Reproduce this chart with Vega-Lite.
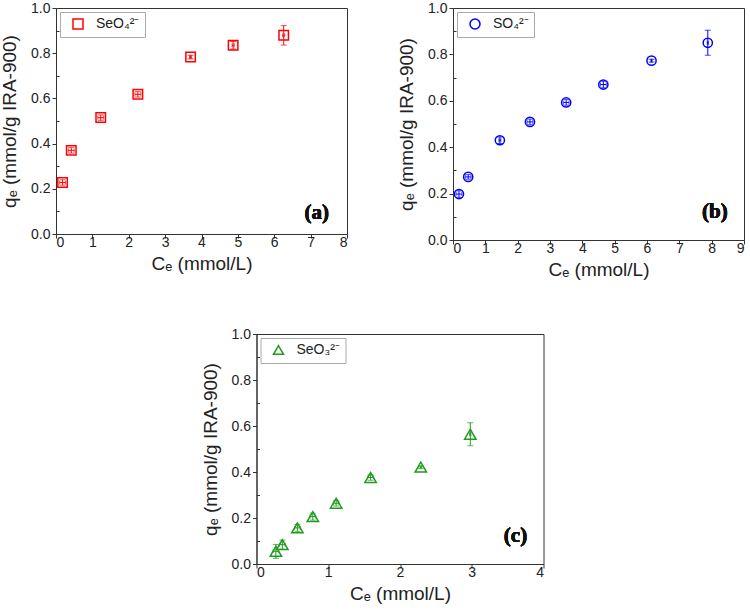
{
  "$schema": "https://vega.github.io/schema/vega-lite/v6.json",
  "padding": {"left": 0, "top": 0, "right": 0, "bottom": 0},
  "background": "white",
  "config": {
    "view": {"stroke": "#333", "strokeWidth": 1},
    "axis": {
      "grid": false,
      "domainColor": "#333",
      "tickColor": "#333",
      "labelFont": "Liberation Sans",
      "labelFontSize": 14,
      "labelColor": "#222",
      "labelPadding": 2,
      "titleFont": "Liberation Sans",
      "titleFontSize": 19,
      "titleFontWeight": "normal",
      "titleColor": "#222"
    },
    "axisX": {"labelPadding": -3, "titlePadding": 5},
    "axisY": {"titlePadding": 11},
    "legend": {
      "orient": "top-left",
      "offset": 4,
      "padding": 5,
      "symbolOffset": 6,
      "labelOffset": 11,
      "strokeColor": "#aaa",
      "fillColor": "white",
      "labelFont": "Liberation Sans",
      "labelFontSize": 14,
      "labelColor": "#222",
      "symbolStrokeWidth": 1.5
    }
  },
  "datasets": {
    "seo4": [
      {"ion": "SeO₄²⁻", "ce": 0.18, "qe": 0.228, "ec": 0.08, "eq": 0.012},
      {"ion": "SeO₄²⁻", "ce": 0.42, "qe": 0.370, "ec": 0.08, "eq": 0.012},
      {"ion": "SeO₄²⁻", "ce": 1.23, "qe": 0.515, "ec": 0.08, "eq": 0.012},
      {"ion": "SeO₄²⁻", "ce": 2.25, "qe": 0.618, "ec": 0.08, "eq": 0.012},
      {"ion": "SeO₄²⁻", "ce": 3.70, "qe": 0.783, "ec": 0.03, "eq": 0.008},
      {"ion": "SeO₄²⁻", "ce": 4.87, "qe": 0.835, "ec": 0.03, "eq": 0.017},
      {"ion": "SeO₄²⁻", "ce": 6.26, "qe": 0.879, "ec": 0.03, "eq": 0.043}
    ],
    "so4": [
      {"ion": "SO₄²⁻", "ce": 0.185, "qe": 0.198, "ec": 0.09, "eq": 0.014},
      {"ion": "SO₄²⁻", "ce": 0.47, "qe": 0.272, "ec": 0.09, "eq": 0.01},
      {"ion": "SO₄²⁻", "ce": 1.45, "qe": 0.430, "ec": 0.03, "eq": 0.014},
      {"ion": "SO₄²⁻", "ce": 2.38, "qe": 0.509, "ec": 0.09, "eq": 0.012},
      {"ion": "SO₄²⁻", "ce": 3.50, "qe": 0.593, "ec": 0.09, "eq": 0.012},
      {"ion": "SO₄²⁻", "ce": 4.65, "qe": 0.670, "ec": 0.09, "eq": 0.014},
      {"ion": "SO₄²⁻", "ce": 6.14, "qe": 0.773, "ec": 0.02, "eq": 0.006},
      {"ion": "SO₄²⁻", "ce": 7.88, "qe": 0.850, "ec": 0.02, "eq": 0.054}
    ],
    "seo3": [
      {"ion": "SeO₃²⁻", "ce": 0.27, "qe": 0.055, "ec": 0.04, "eq": 0.03},
      {"ion": "SeO₃²⁻", "ce": 0.36, "qe": 0.084, "ec": 0.04, "eq": 0.02},
      {"ion": "SeO₃²⁻", "ce": 0.57, "qe": 0.157, "ec": 0.04, "eq": 0.015},
      {"ion": "SeO₃²⁻", "ce": 0.785, "qe": 0.206, "ec": 0.04, "eq": 0.015},
      {"ion": "SeO₃²⁻", "ce": 1.11, "qe": 0.264, "ec": 0.04, "eq": 0.012},
      {"ion": "SeO₃²⁻", "ce": 1.59, "qe": 0.376, "ec": 0.04, "eq": 0.012},
      {"ion": "SeO₃²⁻", "ce": 2.29, "qe": 0.421, "ec": 0.01, "eq": 0.005},
      {"ion": "SeO₃²⁻", "ce": 2.98, "qe": 0.564, "ec": 0.01, "eq": 0.05}
    ]
  },
  "vconcat": [
    {
      "hconcat": [
        {
          "width": 291,
          "height": 226,
          "data": {"name": "seo4"},
          "encoding": {
            "x": {"field": "ce", "type": "quantitative", "scale": {"domain": [0, 8], "nice": false},
              "axis": {"title": "Cₑ (mmol/L)", "values": [0, 0.5, 1, 1.5, 2, 2.5, 3, 3.5, 4, 4.5, 5, 5.5, 6, 6.5, 7, 7.5, 8],
                "labelExpr": "datum.value % 1 === 0 ? datum.label : ''", "format": "d",
                "tickSize": {"condition": {"test": "datum.value % 1 !== 0", "value": -3}, "value": 4}}},
            "y": {"field": "qe", "type": "quantitative", "scale": {"domain": [0, 1], "nice": false},
              "axis": {"title": "qₑ (mmol/g IRA-900)", "values": [0, 0.1, 0.2, 0.3, 0.4, 0.5, 0.6, 0.7, 0.8, 0.9, 1],
                "labelExpr": "round(datum.value * 10) % 2 === 0 ? datum.label : ''", "format": ".1f",
                "tickSize": {"condition": {"test": "round(datum.value * 10) % 2 === 1", "value": -3}, "value": 4}}}
          },
          "layer": [
            {
              "mark": {"type": "errorbar", "color": "#ff0000", "thickness": 1, "ticks": {"size": 6, "thickness": 1}},
              "encoding": {"yError": {"field": "eq"}}
            },
            {
              "mark": {"type": "errorbar", "color": "#ff0000", "thickness": 1, "ticks": {"size": 4, "thickness": 1}},
              "encoding": {"xError": {"field": "ec"}}
            },
            {
              "mark": {"type": "point", "shape": "square", "filled": false, "size": 90, "strokeWidth": 1.5, "opacity": 1},
              "encoding": {
                "color": {"field": "ion", "type": "nominal", "scale": {"range": ["#ff0000"]}, "legend": {"title": null}},
                "shape": {"field": "ion", "type": "nominal", "scale": {"range": ["square"]}, "legend": {"title": null}}
              }
            },
            {
              "mark": {"type": "text", "font": "Liberation Serif", "fontWeight": "bold", "fontSize": 21, "color": "#111", "align": "center", "baseline": "middle"},
              "encoding": {"x": {"datum": 7.17}, "y": {"datum": 0.093}, "text": {"value": "(a)"}}
            }
          ]
        },
        {
          "width": 291,
          "height": 232,
          "data": {"name": "so4"},
          "encoding": {
            "x": {"field": "ce", "type": "quantitative", "scale": {"domain": [0, 9], "nice": false},
              "axis": {"title": "Cₑ (mmol/L)", "values": [0, 0.5, 1, 1.5, 2, 2.5, 3, 3.5, 4, 4.5, 5, 5.5, 6, 6.5, 7, 7.5, 8, 8.5, 9],
                "labelExpr": "datum.value % 1 === 0 ? datum.label : ''", "format": "d",
                "tickSize": {"condition": {"test": "datum.value % 1 !== 0", "value": -3}, "value": 4}}},
            "y": {"field": "qe", "type": "quantitative", "scale": {"domain": [0, 1], "nice": false},
              "axis": {"title": "qₑ (mmol/g IRA-900)", "values": [0, 0.1, 0.2, 0.3, 0.4, 0.5, 0.6, 0.7, 0.8, 0.9, 1],
                "labelExpr": "round(datum.value * 10) % 2 === 0 ? datum.label : ''", "format": ".1f",
                "tickSize": {"condition": {"test": "round(datum.value * 10) % 2 === 1", "value": -3}, "value": 4}}}
          },
          "layer": [
            {
              "mark": {"type": "errorbar", "color": "#0000ff", "thickness": 1, "ticks": {"size": 6, "thickness": 1}},
              "encoding": {"yError": {"field": "eq"}}
            },
            {
              "mark": {"type": "errorbar", "color": "#0000ff", "thickness": 1, "ticks": {"size": 4, "thickness": 1}},
              "encoding": {"xError": {"field": "ec"}}
            },
            {
              "mark": {"type": "point", "shape": "circle", "filled": false, "size": 85, "strokeWidth": 1.5, "opacity": 1},
              "encoding": {
                "color": {"field": "ion", "type": "nominal", "scale": {"range": ["#0000ff"]}, "legend": {"title": null}},
                "shape": {"field": "ion", "type": "nominal", "scale": {"range": ["circle"]}, "legend": {"title": null}}
              }
            },
            {
              "mark": {"type": "text", "font": "Liberation Serif", "fontWeight": "bold", "fontSize": 21, "color": "#111", "align": "center", "baseline": "middle"},
              "encoding": {"x": {"datum": 8.1}, "y": {"datum": 0.12}, "text": {"value": "(b)"}}
            }
          ]
        }
      ],
      "spacing": 106,
      "bounds": "flush",
      "resolve": {"scale": {"color": "independent", "shape": "independent"}, "legend": {"color": "independent", "shape": "independent"}}
    },
    {
      "width": 287,
      "height": 230,
      "data": {"name": "seo3"},
      "encoding": {
        "x": {"field": "ce", "type": "quantitative", "scale": {"domain": [0, 4], "nice": false},
          "axis": {"title": "Cₑ (mmol/L)", "values": [0, 0.5, 1, 1.5, 2, 2.5, 3, 3.5, 4],
            "labelExpr": "datum.value % 1 === 0 ? datum.label : ''", "format": "d",
            "tickSize": {"condition": {"test": "datum.value % 1 !== 0", "value": -3}, "value": 4}}},
        "y": {"field": "qe", "type": "quantitative", "scale": {"domain": [0, 1], "nice": false},
          "axis": {"title": "qₑ (mmol/g IRA-900)", "values": [0, 0.1, 0.2, 0.3, 0.4, 0.5, 0.6, 0.7, 0.8, 0.9, 1],
            "labelExpr": "round(datum.value * 10) % 2 === 0 ? datum.label : ''", "format": ".1f",
            "tickSize": {"condition": {"test": "round(datum.value * 10) % 2 === 1", "value": -3}, "value": 4}}}
      },
      "layer": [
        {
          "mark": {"type": "errorbar", "color": "#1e9b1e", "thickness": 1, "ticks": {"size": 6, "thickness": 1}},
          "encoding": {"yError": {"field": "eq"}}
        },
        {
          "mark": {"type": "errorbar", "color": "#1e9b1e", "thickness": 1, "ticks": {"size": 4, "thickness": 1}},
          "encoding": {"xError": {"field": "ec"}}
        },
        {
          "mark": {"type": "point", "shape": "triangle-up", "filled": false, "size": 130, "strokeWidth": 1.5, "opacity": 1},
          "encoding": {
            "color": {"field": "ion", "type": "nominal", "scale": {"range": ["#1e9b1e"]}, "legend": {"title": null}},
            "shape": {"field": "ion", "type": "nominal", "scale": {"range": ["triangle-up"]}, "legend": {"title": null}}
          }
        },
        {
          "mark": {"type": "text", "font": "Liberation Serif", "fontWeight": "bold", "fontSize": 21, "color": "#111", "align": "center", "baseline": "middle"},
          "encoding": {"x": {"datum": 3.61}, "y": {"datum": 0.122}, "text": {"value": "(c)"}}
        }
      ]
    }
  ],
  "spacing": 46,
  "bounds": "full",
  "center": true,
  "resolve": {"scale": {"color": "independent", "shape": "independent"}, "legend": {"color": "independent", "shape": "independent"}}
}
